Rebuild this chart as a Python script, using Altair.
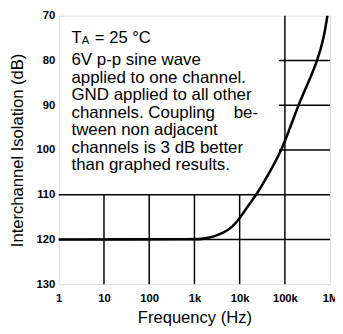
import altair as alt
import pandas as pd

# Curve data
freq = [1, 1000, 1500, 2000, 3000, 4500, 7000, 10000, 15500, 23600, 40000,
        88000, 195000, 330000, 525000, 730000, 870000]
isolation = [120, 120, 119.9, 119.7, 119.2, 118.5, 117.2, 115.3, 112.4, 110,
             106, 100, 90, 85, 80, 75, 70]

# Grid segments (partial grid, box area left open)
vgrid_f = [10, 100, 1000, 10000, 100000]
vgrid_top = [110, 110, 110, 110, 70]
hgrid_db = [80, 90, 100, 110, 120]
hgrid_start = [74000, 74000, 74000, 1, 1]

tick_vals = [1, 10, 100, 1000, 10000, 100000, 1000000]
tick_labels = ["1", "10", "100", "1k", "10k", "100k", "1M"]
y_ticks = [70, 80, 90, 100, 110, 120, 130]

note_lines = ["6V p-p sine wave", "applied to one channel.",
              "GND applied to all other",
              "channels. Coupling\u00a0\u00a0\u00a0\u00a0be-",
              "tween non adjacent", "channels is 3 dB better",
              "than graphed results."]

FONT = "Liberation Sans"

curve_df = pd.DataFrame({"f": freq, "db": isolation})
vg_df = pd.DataFrame({"f": vgrid_f, "top": vgrid_top, "bot": [130] * len(vgrid_f)})
hg_df = pd.DataFrame({"db": hgrid_db, "x1": hgrid_start, "x2": [1000000] * len(hgrid_db)})

label_expr = "{" + ",".join(f"'{v}':'{l}'" for v, l in zip(tick_vals, tick_labels)) + "}[datum.value]"

xscale = alt.Scale(type="log", domain=[1, 1000000], nice=False)
yscale = alt.Scale(domain=[70, 130], reverse=True, nice=False)

x_enc = alt.X("f:Q", scale=xscale, axis=alt.Axis(
    values=tick_vals, labelExpr=label_expr, title="Frequency (Hz)",
    grid=False, ticks=False, domain=False, labelFont=FONT, labelFontSize=11.5,
    labelFontWeight="bold", labelColor="black", labelPadding=9,
    labelFlush=False, labelOverlap=False,
    titleFont=FONT, titleFontSize=17, titleFontWeight="normal",
    titleColor="black", titlePadding=6))
y_enc = alt.Y("db:Q", scale=yscale, axis=alt.Axis(
    values=y_ticks, title="Interchannel Isolation (dB)", grid=False,
    ticks=False, domain=False, labelFont=FONT, labelFontSize=11.5,
    labelFontWeight="bold", labelColor="black", labelPadding=4,
    labelFlush=False, labelOverlap=False,
    titleFont=FONT, titleFontSize=17, titleFontWeight="normal",
    titleColor="black", titlePadding=10))

vgrid = alt.Chart(vg_df).mark_rule(color="black", strokeWidth=1.5).encode(
    x=alt.X("f:Q", scale=xscale), y=alt.Y("top:Q", scale=yscale), y2="bot:Q")
hgrid = alt.Chart(hg_df).mark_rule(color="black", strokeWidth=1.5).encode(
    x=alt.X("x1:Q", scale=xscale), x2="x2:Q", y=alt.Y("db:Q", scale=yscale))

curve = alt.Chart(curve_df).mark_line(color="black", strokeWidth=2.6,
                                      interpolate="basis").encode(x=x_enc, y=y_enc)

tx = alt.Chart(pd.DataFrame({"t": ["T"]})).mark_text(
    font=FONT, fontSize=17, align="left", baseline="alphabetic", color="black"
).encode(text="t:N", x=alt.value(13), y=alt.value(28))
ta = alt.Chart(pd.DataFrame({"t": ["A"]})).mark_text(
    font=FONT, fontSize=11.5, align="left", baseline="alphabetic", color="black"
).encode(text="t:N", x=alt.value(23.5), y=alt.value(29.5))
t25 = alt.Chart(pd.DataFrame({"t": ["= 25 \u00b0C"]})).mark_text(
    font=FONT, fontSize=17, align="left", baseline="alphabetic", color="black"
).encode(text="t:N", x=alt.value(37), y=alt.value(28))
note = alt.Chart(pd.DataFrame({"t": [note_lines]})).mark_text(
    font=FONT, fontSize=17.3, align="left", baseline="alphabetic", color="black",
    lineHeight=17.9
).encode(text="t", x=alt.value(13), y=alt.value(51))

chart = alt.layer(vgrid, hgrid, curve, tx, ta, t25, note).properties(
    width=278, height=275,
    autosize=alt.AutoSizeParams(type="none"),
    padding={"left": 52, "top": 4, "right": 5, "bottom": 39}
).configure_view(stroke="black", strokeWidth=1.5).configure(background="white")

chart.save("out.html", embed_options={"renderer": "svg", "actions": False})
